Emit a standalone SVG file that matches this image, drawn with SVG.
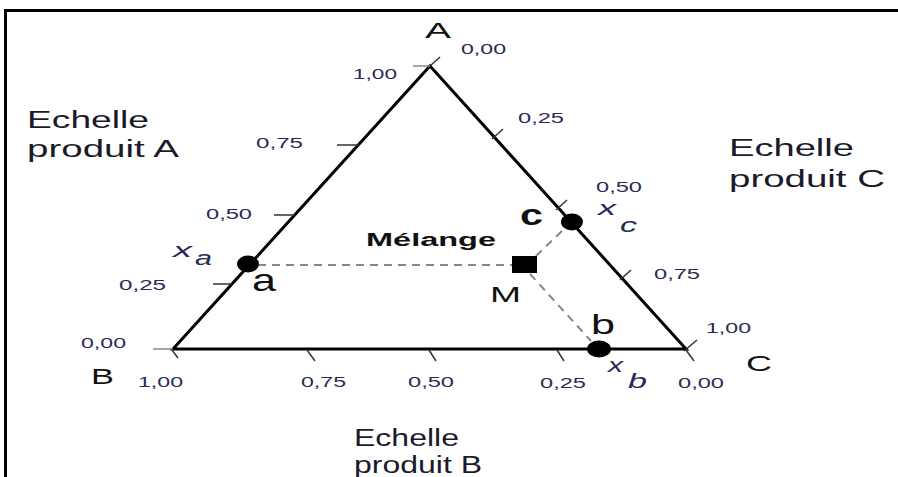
<svg xmlns="http://www.w3.org/2000/svg" width="898" height="477" viewBox="0 0 898 477">
<style>
text{font-family:"Liberation Sans",Arial,sans-serif;}
.num{font-size:15px;fill:#2a2a55;}
.big{font-size:22px;fill:#111;}
.ech{font-size:23px;fill:#1a1a2a;}
.sub{font-size:20px;font-style:italic;fill:#2a2a55;}
.tri{fill:none;stroke:#000;stroke-width:3;stroke-linejoin:miter;}
.tick{stroke:#333;stroke-width:1.5;}
.tickg{stroke:#888;stroke-width:1.5;}
.dash{stroke:#888;stroke-width:2;stroke-dasharray:8 6;fill:none;}
.dot{fill:#000;}
</style>
<rect width="898" height="477" fill="#fff"/>
<path d="M5.5 477V10.5H898" fill="none" stroke="#000" stroke-width="3"/>

<g id="triangle">
<path class="tri" d="M173 349L430 66L686 349Z"/>
<line class="tickg" x1="413" y1="66" x2="430" y2="66"/>
<line class="tick" x1="337" y1="145" x2="359" y2="145"/>
<line class="tick" x1="274" y1="215" x2="295" y2="215"/>
<line class="tick" x1="213" y1="284" x2="232" y2="284"/>
<line class="tickg" x1="153" y1="349" x2="173" y2="349"/>
<line class="tick" x1="430" y1="66" x2="440" y2="57"/>
<line class="tick" x1="492" y1="139" x2="503" y2="129"/>
<line class="tick" x1="556" y1="210" x2="567" y2="200"/>
<line class="tick" x1="620" y1="280" x2="631" y2="270"/>
<line class="tick" x1="684" y1="351" x2="697" y2="340"/>
<line class="tick" x1="172" y1="350" x2="178" y2="358"/>
<line class="tick" x1="307" y1="350" x2="315" y2="361"/>
<line class="tick" x1="429" y1="350" x2="436" y2="361"/>
<line class="tick" x1="557" y1="350" x2="564" y2="361"/>
<line class="tick" x1="686" y1="350" x2="694" y2="361"/>
</g>

<g id="connectors">
<line class="dash" x1="258" y1="265" x2="512" y2="265"/>
<line class="dash" x1="536" y1="256" x2="564" y2="229"/>
<line class="dash" x1="530" y1="274" x2="591" y2="341"/>
</g>

<g id="vertex-A">
<text class="big" x="425" y="38" textLength="26" lengthAdjust="spacingAndGlyphs">A</text>
</g>
<g id="vertex-B">
<text class="big" x="91" y="384" textLength="23" lengthAdjust="spacingAndGlyphs">B</text>
</g>
<g id="vertex-C">
<text class="big" x="746" y="371" textLength="26" lengthAdjust="spacingAndGlyphs">C</text>
</g>

<g id="scale-A">
<text class="ech" x="27" y="128" textLength="122" lengthAdjust="spacingAndGlyphs">Echelle</text>
<text class="ech" x="27" y="157" textLength="152" lengthAdjust="spacingAndGlyphs">produit A</text>
<text class="num" x="353" y="79" textLength="44" lengthAdjust="spacingAndGlyphs">1,00</text>
<text class="num" x="256" y="148" textLength="47" lengthAdjust="spacingAndGlyphs">0,75</text>
<text class="num" x="206" y="219" textLength="46" lengthAdjust="spacingAndGlyphs">0,50</text>
<text class="num" x="119" y="290" textLength="47" lengthAdjust="spacingAndGlyphs">0,25</text>
<text class="num" x="81" y="348" textLength="45" lengthAdjust="spacingAndGlyphs">0,00</text>
</g>

<g id="scale-C">
<text class="ech" x="729" y="156" textLength="125" lengthAdjust="spacingAndGlyphs">Echelle</text>
<text class="ech" x="729" y="187" textLength="156" lengthAdjust="spacingAndGlyphs">produit C</text>
<text class="num" x="461" y="54" textLength="45" lengthAdjust="spacingAndGlyphs">0,00</text>
<text class="num" x="518" y="123" textLength="46" lengthAdjust="spacingAndGlyphs">0,25</text>
<text class="num" x="596" y="192" textLength="46" lengthAdjust="spacingAndGlyphs">0,50</text>
<text class="num" x="654" y="279" textLength="46" lengthAdjust="spacingAndGlyphs">0,75</text>
<text class="num" x="706" y="333" textLength="45" lengthAdjust="spacingAndGlyphs">1,00</text>
</g>

<g id="scale-B">
<text class="ech" x="354" y="446" textLength="105" lengthAdjust="spacingAndGlyphs">Echelle</text>
<text class="ech" x="354" y="473" textLength="128" lengthAdjust="spacingAndGlyphs">produit B</text>
<text class="num" x="138" y="387" textLength="45" lengthAdjust="spacingAndGlyphs">1,00</text>
<text class="num" x="301" y="387" textLength="45" lengthAdjust="spacingAndGlyphs">0,75</text>
<text class="num" x="408" y="387" textLength="46" lengthAdjust="spacingAndGlyphs">0,50</text>
<text class="num" x="540" y="388" textLength="46" lengthAdjust="spacingAndGlyphs">0,25</text>
<text class="num" x="678" y="388" textLength="46" lengthAdjust="spacingAndGlyphs">0,00</text>
</g>

<g id="point-a">
<ellipse class="dot" cx="248" cy="264" rx="11" ry="8.5"/>
<text x="252" y="291" font-size="32" fill="#111" textLength="24" lengthAdjust="spacingAndGlyphs">a</text>
<text class="sub" x="173" y="257" textLength="19" lengthAdjust="spacingAndGlyphs">x</text>
<text class="sub" x="195" y="265" textLength="17" lengthAdjust="spacingAndGlyphs">a</text>
</g>

<g id="point-c">
<ellipse class="dot" cx="572" cy="222" rx="11" ry="8.5"/>
<text x="520" y="225" font-size="30" font-weight="bold" fill="#111" textLength="23" lengthAdjust="spacingAndGlyphs">c</text>
<text class="sub" x="598" y="215" textLength="18" lengthAdjust="spacingAndGlyphs">x</text>
<text class="sub" x="620" y="232" textLength="17" lengthAdjust="spacingAndGlyphs">c</text>
</g>

<g id="point-b">
<ellipse class="dot" cx="599" cy="349" rx="12" ry="8.5"/>
<text x="591" y="334" font-size="28" fill="#111" textLength="24" lengthAdjust="spacingAndGlyphs">b</text>
<text class="sub" x="608" y="372" textLength="15" lengthAdjust="spacingAndGlyphs">x</text>
<text class="sub" x="628" y="388" textLength="19" lengthAdjust="spacingAndGlyphs">b</text>
</g>

<g id="point-M">
<rect x="512" y="256" width="25" height="17" fill="#000"/>
<text x="366" y="246" font-size="18" font-weight="bold" fill="#111" textLength="130" lengthAdjust="spacingAndGlyphs">Mélange</text>
<text class="big" x="490" y="302" textLength="31" lengthAdjust="spacingAndGlyphs">M</text>
</g>
</svg>
